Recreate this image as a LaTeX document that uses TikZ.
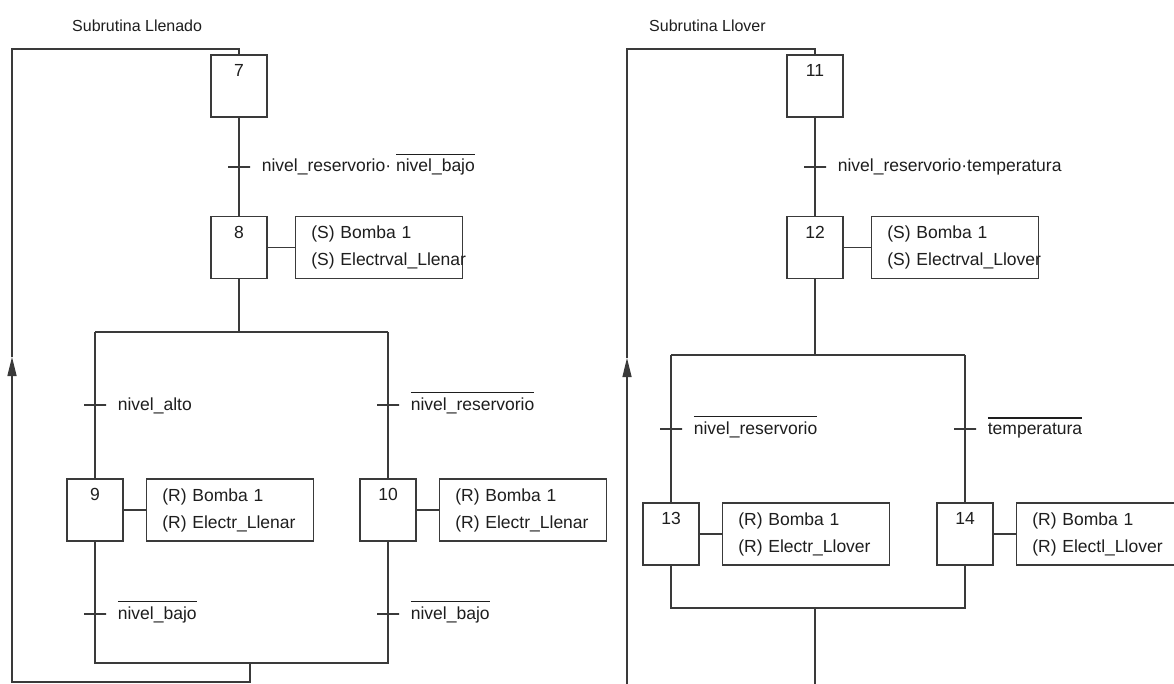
\documentclass[tikz,border=0pt]{standalone}
\usepackage{fontspec}
\setmainfont{Liberation Sans}
\usepackage{tikz}
\usetikzlibrary{arrows.meta,positioning}
\definecolor{grafLinea}{HTML}{3A3A3A}
\definecolor{grafTinta}{HTML}{1E1E1E}
\newcommand{\etq}{\fontsize{17.5}{27}\selectfont}
\newcommand{\etqacc}{\etq\hyphenpenalty=10000\relax}
\newcommand{\nega}[1]{\leavevmode\vbox{\hrule height 1.2pt\kern 4pt\hbox{#1}}}
\tikzset{
  etapa/.style={draw=grafLinea, line width=1.3pt, minimum width=56pt, minimum height=62pt, inner sep=0pt},
  num/.style={anchor=north, inner sep=0pt, yshift=-10pt, font=\etq, text=grafTinta},
  accion/.style={draw=grafLinea, line width=1.3pt, minimum height=62pt, text width=135pt,
                 inner xsep=16pt, inner ysep=0pt, align=left, font=\etqacc, text=grafTinta},
  trans/.style={draw=grafLinea, line width=1.3pt, minimum width=22pt, minimum height=0pt, inner sep=0pt},
  cond/.style={anchor=base west, inner sep=0pt, xshift=11pt, yshift=-5pt, font=\etq, text=grafTinta},
  titulo/.style={anchor=base west, inner sep=0pt, font=\fontsize{16}{19}\selectfont, text=grafTinta},
  linea/.style={draw=grafLinea, line width=1.3pt},
  flecha/.style={linea, -{Triangle[length=19pt,width=9pt]}},
}
\begin{document}
\begin{tikzpicture}[x=1pt, y=-1pt]
  \fill[white] (0,0) rectangle (1174,684);
  \clip (0,0) rectangle (1174,684);

  % Subrutina Llenado
  \node[titulo] (tit1) at (72,32) {Subrutina Llenado};
  \node[etapa, label={[num]north:7}] (s7) at (239,86) {};
  \node[trans, label={[cond]east:{nivel\_reservorio·\ \nega{nivel\_bajo}}}] (t7) at (239,167) {};
  \node[etapa, label={[num]north:8}, below=98pt of s7] (s8) {};
  \node[accion, right=27pt of s8] (a8) {(S)~Bomba~1\\(S)~Electrval\_Llenar};
  \coordinate (j8) at (239,332);
  \coordinate (pL) at (95,332);
  \coordinate (pR) at (388,332);
  \node[trans, label={[cond]east:{nivel\_alto}}] (t9a) at (95,405) {};
  \node[trans, label={[cond]east:{\nega{nivel\_reservorio}}}] (t10a) at (388,405) {};
  \node[etapa, label={[num]north:9}] (s9) at (95,510) {};
  \node[etapa, label={[num]north:10}] (s10) at (388,510) {};
  \node[accion, right=22pt of s9] (a9) {(R)~Bomba~1\\(R)~Electr\_Llenar};
  \node[accion, right=22pt of s10] (a10) {(R)~Bomba~1\\(R)~Electr\_Llenar};
  \node[trans, label={[cond]east:{\nega{nivel\_bajo}}}] (t9b) at (95,614) {};
  \node[trans, label={[cond]east:{\nega{nivel\_bajo}}}] (t10b) at (388,614) {};
  \coordinate (qL) at (95,663);
  \coordinate (qR) at (388,663);
  \coordinate (j10) at (250,663);
  \coordinate (c1) at (250,682);
  \coordinate (c2) at (12,682);
  \coordinate (c3) at (12,357);
  \coordinate (c4) at (12,49);
  \coordinate (c5) at (239,49);

  \draw[linea] (s7) -- (t7.center) -- (s8);
  \draw[linea] (s8) -- (a8);
  \draw[linea] (s8) -- (j8);
  \draw[linea] (pL) -- (pR);
  \draw[linea] (pL) -- (t9a.center) -- (s9);
  \draw[linea] (pR) -- (t10a.center) -- (s10);
  \draw[linea] (s9) -- (a9);
  \draw[linea] (s10) -- (a10);
  \draw[linea] (s9) -- (t9b.center) -- (qL) -- (qR) -- (t10b.center) -- (s10);
  \draw[flecha] (j10) -- (c1) -- (c2) -- (c3);
  \draw[linea] (c3) -- (c4) -- (c5) -- (s7);

  % Subrutina Llover
  \node[titulo] (tit2) at (649,32) {Subrutina Llover};
  \node[etapa, label={[num]north:11}] (s11) at (815,86) {};
  \node[trans, label={[cond]east:{nivel\_reservorio·temperatura}}] (t11) at (815,167) {};
  \node[etapa, label={[num]north:12}, below=98pt of s11] (s12) {};
  \node[accion, right=27pt of s12] (a12) {(S)~Bomba~1\\(S)~Electrval\_Llover};
  \coordinate (j12) at (815,355);
  \coordinate (pL2) at (671,355);
  \coordinate (pR2) at (965,355);
  \node[trans, label={[cond]east:{\nega{nivel\_reservorio}}}] (t13) at (671,429) {};
  \node[trans, label={[cond]east:{\nega{temperatura}}}] (t14) at (965,429) {};
  \node[etapa, label={[num]north:13}] (s13) at (671,534) {};
  \node[etapa, label={[num]north:14}] (s14) at (965,534) {};
  \node[accion, right=22pt of s13] (a13) {(R)~Bomba~1\\(R)~Electr\_Llover};
  \node[accion, right=22pt of s14] (a14) {(R)~Bomba~1\\(R)~Electl\_Llover};
  \coordinate (qL2) at (671,608);
  \coordinate (qR2) at (965,608);
  \coordinate (j14) at (815,608);
  \coordinate (e2) at (815,690);
  \coordinate (d1) at (627,690);
  \coordinate (d2) at (627,358);
  \coordinate (d3) at (627,49);
  \coordinate (d4) at (815,49);

  \draw[linea] (s11) -- (t11.center) -- (s12);
  \draw[linea] (s12) -- (a12);
  \draw[linea] (s12) -- (j12);
  \draw[linea] (pL2) -- (pR2);
  \draw[linea] (pL2) -- (t13.center) -- (s13);
  \draw[linea] (pR2) -- (t14.center) -- (s14);
  \draw[linea] (s13) -- (a13);
  \draw[linea] (s14) -- (a14);
  \draw[linea] (s13) -- (qL2) -- (qR2) -- (s14);
  \draw[linea] (j14) -- (e2);
  \draw[flecha] (d1) -- (d2);
  \draw[linea] (d2) -- (d3) -- (d4) -- (s11);
\end{tikzpicture}
\end{document}
